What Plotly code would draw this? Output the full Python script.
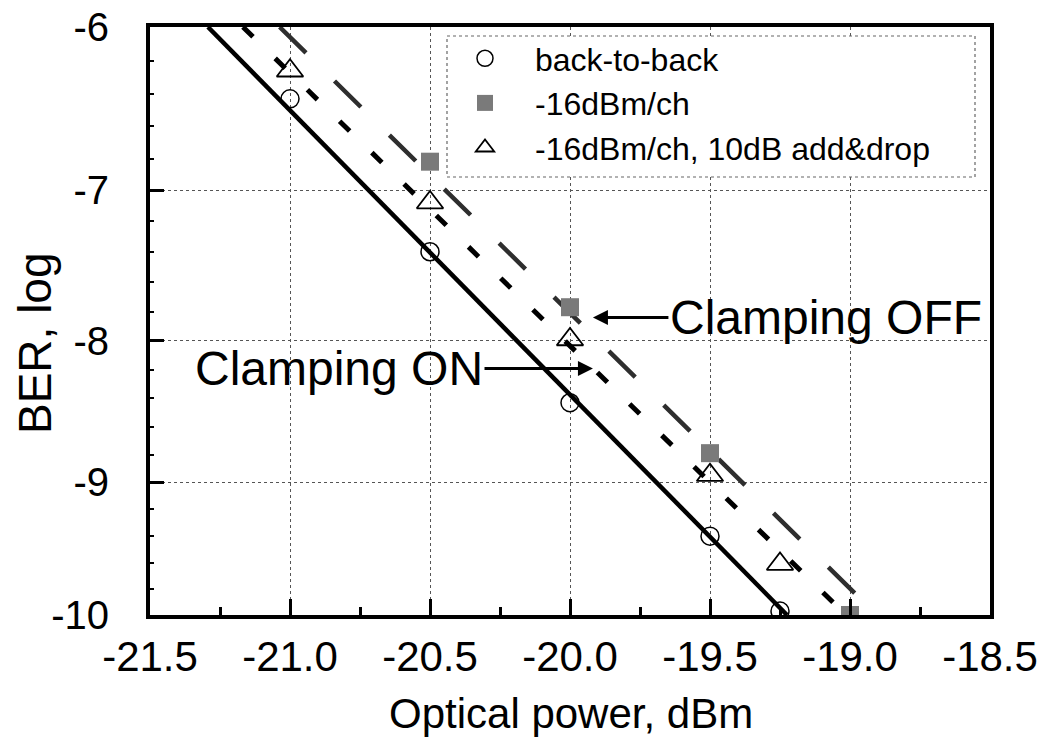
import math
import plotly.graph_objects as go

# ---------------- data (log10 BER vs optical power) ----------------
x_b2b = [-21.0, -20.5, -20.0, -19.5, -19.25]
y_b2b = [-6.43, -7.40, -8.43, -9.40, -9.97]

x_16 = [-20.5, -20.0, -19.5, -19.0]
y_16 = [-6.82, -7.77, -8.79, -10.0]

x_ad = [-21.0, -20.5, -20.0, -19.5, -19.25]
y_ad = [-6.26, -7.08, -7.99, -8.95, -9.61]

# fitted lines (end points at log BER = -6 and -10)
fit_on_x = [-21.293, -19.225]      # back-to-back (solid)
fit_on_y = [-6.0, -10.0]
fit_ad_x = [-21.168, -19.014]      # clamping ON (short dashes)
fit_ad_y = [-6.0, -10.0]
fit_off_x = [-21.037, -18.904]     # clamping OFF (long dashes)
fit_off_y = [-6.0, -10.0]

x_ticks = [-21.5, -21.0, -20.5, -20.0, -19.5, -19.0, -18.5]
x_ticktext = ["-21.5", "-21.0", "-20.5", "-20.0", "-19.5", "-19.0", "-18.5"]
x_minor = [-21.25, -20.75, -20.25, -19.75, -19.25, -18.75]
y_ticks = [-6, -7, -8, -9, -10]
y_ticktext = ["-6", "-7", "-8", "-9", "-10"]
y_minor = [-6.2, -6.4, -6.6, -6.8, -7.2, -7.4, -7.6, -7.8, -8.2, -8.4, -8.6,
           -8.8, -9.2, -9.4, -9.6, -9.8]


# BER axis is a Q-scale (linear in Q, labelled in log10 BER)
def q_of(logber):
    target = 10.0 ** logber
    lo, hi = 0.0, 20.0
    for _ in range(200):
        mid = 0.5 * (lo + hi)
        if 0.5 * math.erfc(mid / math.sqrt(2.0)) > target:
            lo = mid
        else:
            hi = mid
    return 0.5 * (lo + hi)


def qs(vals):
    return [q_of(v) for v in vals]


FONT = "Liberation Sans, Arial, sans-serif"

fig = go.Figure()

fig.add_trace(go.Scatter(x=fit_on_x, y=qs(fit_on_y), mode="lines",
                         line=dict(color="black", width=4.5),
                         showlegend=False, hoverinfo="skip"))
fig.add_trace(go.Scatter(x=fit_ad_x, y=qs(fit_ad_y), mode="lines",
                         line=dict(color="black", width=5, dash="14px,31px"),
                         showlegend=False, hoverinfo="skip"))
fig.add_trace(go.Scatter(x=fit_off_x, y=qs(fit_off_y), mode="lines",
                         line=dict(color="#2e2e2e", width=4.5, dash="37px,40px"),
                         showlegend=False, hoverinfo="skip"))

fig.add_trace(go.Scatter(x=x_b2b, y=qs(y_b2b), mode="markers", name="back-to-back",
                         marker=dict(symbol="circle-open", size=18, color="black",
                                     line=dict(width=1.5, color="black"))))
fig.add_trace(go.Scatter(x=x_16, y=qs(y_16), mode="markers", name="-16dBm/ch",
                         marker=dict(symbol="square", size=18, color="#7a7a7a",
                                     line=dict(width=0))))
fig.add_trace(go.Scatter(x=x_ad, y=qs(y_ad), mode="markers",
                         name="-16dBm/ch, 10dB add&drop",
                         marker=dict(symbol="triangle-up-open", size=23, color="black",
                                     line=dict(width=1.8, color="black"))))

# ---------------- layout ----------------
L, R, T, B = 150, 61, 27, 130
W, H = 1051, 745
pw, ph = W - L - R, H - T - B


def px(xpix):
    return (xpix - L) / pw


def py(ypix):
    return (H - B - ypix) / ph


fig.update_layout(
    width=W, height=H,
    margin=dict(l=L, r=R, t=T, b=B),
    paper_bgcolor="white", plot_bgcolor="white",
    font=dict(family=FONT, color="black"),
    showlegend=True,
    legend=dict(x=px(435), y=py(31), xanchor="left", yanchor="top",
                bgcolor="rgba(0,0,0,0)", borderwidth=0,
                font=dict(size=32, family=FONT, color="black"),
                itemwidth=90, tracegroupgap=0),
    xaxis=dict(range=[-21.5, -18.5], tickmode="array", tickvals=x_ticks,
               ticktext=x_ticktext, ticks="inside", ticklen=16, tickwidth=3,
               tickcolor="black", showline=True, linewidth=4, linecolor="black",
               mirror=True, showgrid=True, gridcolor="#555555", gridwidth=1,
               griddash="dot", zeroline=False, automargin=False,
               tickfont=dict(size=42, family=FONT, color="black"),
               ticklabelstandoff=2,
               minor=dict(tickmode="array", tickvals=x_minor,
                          ticks="inside", ticklen=8, tickwidth=3, tickcolor="black",
                          showgrid=False)),
    yaxis=dict(range=[q_of(-10), q_of(-6)], tickmode="array", tickvals=qs(y_ticks),
               ticktext=y_ticktext, ticks="inside", ticklen=14, tickwidth=3,
               tickcolor="black", showline=True, linewidth=4, linecolor="black",
               mirror=True, showgrid=True, gridcolor="#555555", gridwidth=1,
               griddash="dot", zeroline=False, automargin=False,
               tickfont=dict(size=40, family=FONT, color="black"),
               ticklabelstandoff=29,
               minor=dict(tickmode="array", tickvals=qs(y_minor), ticks="inside",
                          ticklen=4, tickwidth=2, tickcolor="black", showgrid=False)),
)

# legend frame (dotted)
fig.add_shape(type="rect", xref="paper", yref="paper",
              x0=px(447), x1=px(975), y0=py(177), y1=py(36),
              line=dict(color="#666666", width=1.2, dash="dot"),
              fillcolor="white", layer="above")

# axis titles
fig.add_annotation(text="Optical power, dBm", xref="paper", yref="paper",
                   x=px(571), y=py(713), xanchor="center", yanchor="middle",
                   showarrow=False, font=dict(size=42, family=FONT, color="black"))
fig.add_annotation(text="BER, log", xref="paper", yref="paper",
                   x=px(35), y=py(343), xanchor="center", yanchor="middle",
                   textangle=-90, showarrow=False,
                   font=dict(size=46, family=FONT, color="black"))

# Clamping labels with arrows
fig.add_annotation(text="Clamping OFF", x=-19.918, y=q_of(-7.84),
                   ax=-19.086, ay=q_of(-7.84), axref="x", ayref="y",
                   xref="x", yref="y", showarrow=True, arrowhead=2, arrowsize=1,
                   arrowwidth=3, arrowcolor="black",
                   font=dict(size=48, family=FONT, color="black"))
fig.add_annotation(text="Clamping ON", x=-19.918, y=q_of(-8.19),
                   ax=-20.825, ay=q_of(-8.19), axref="x", ayref="y",
                   xref="x", yref="y", showarrow=True, arrowhead=2, arrowsize=1,
                   arrowwidth=3, arrowcolor="black",
                   font=dict(size=48, family=FONT, color="black"))

fig.write_html("out.html", config={"displayModeBar": False})
